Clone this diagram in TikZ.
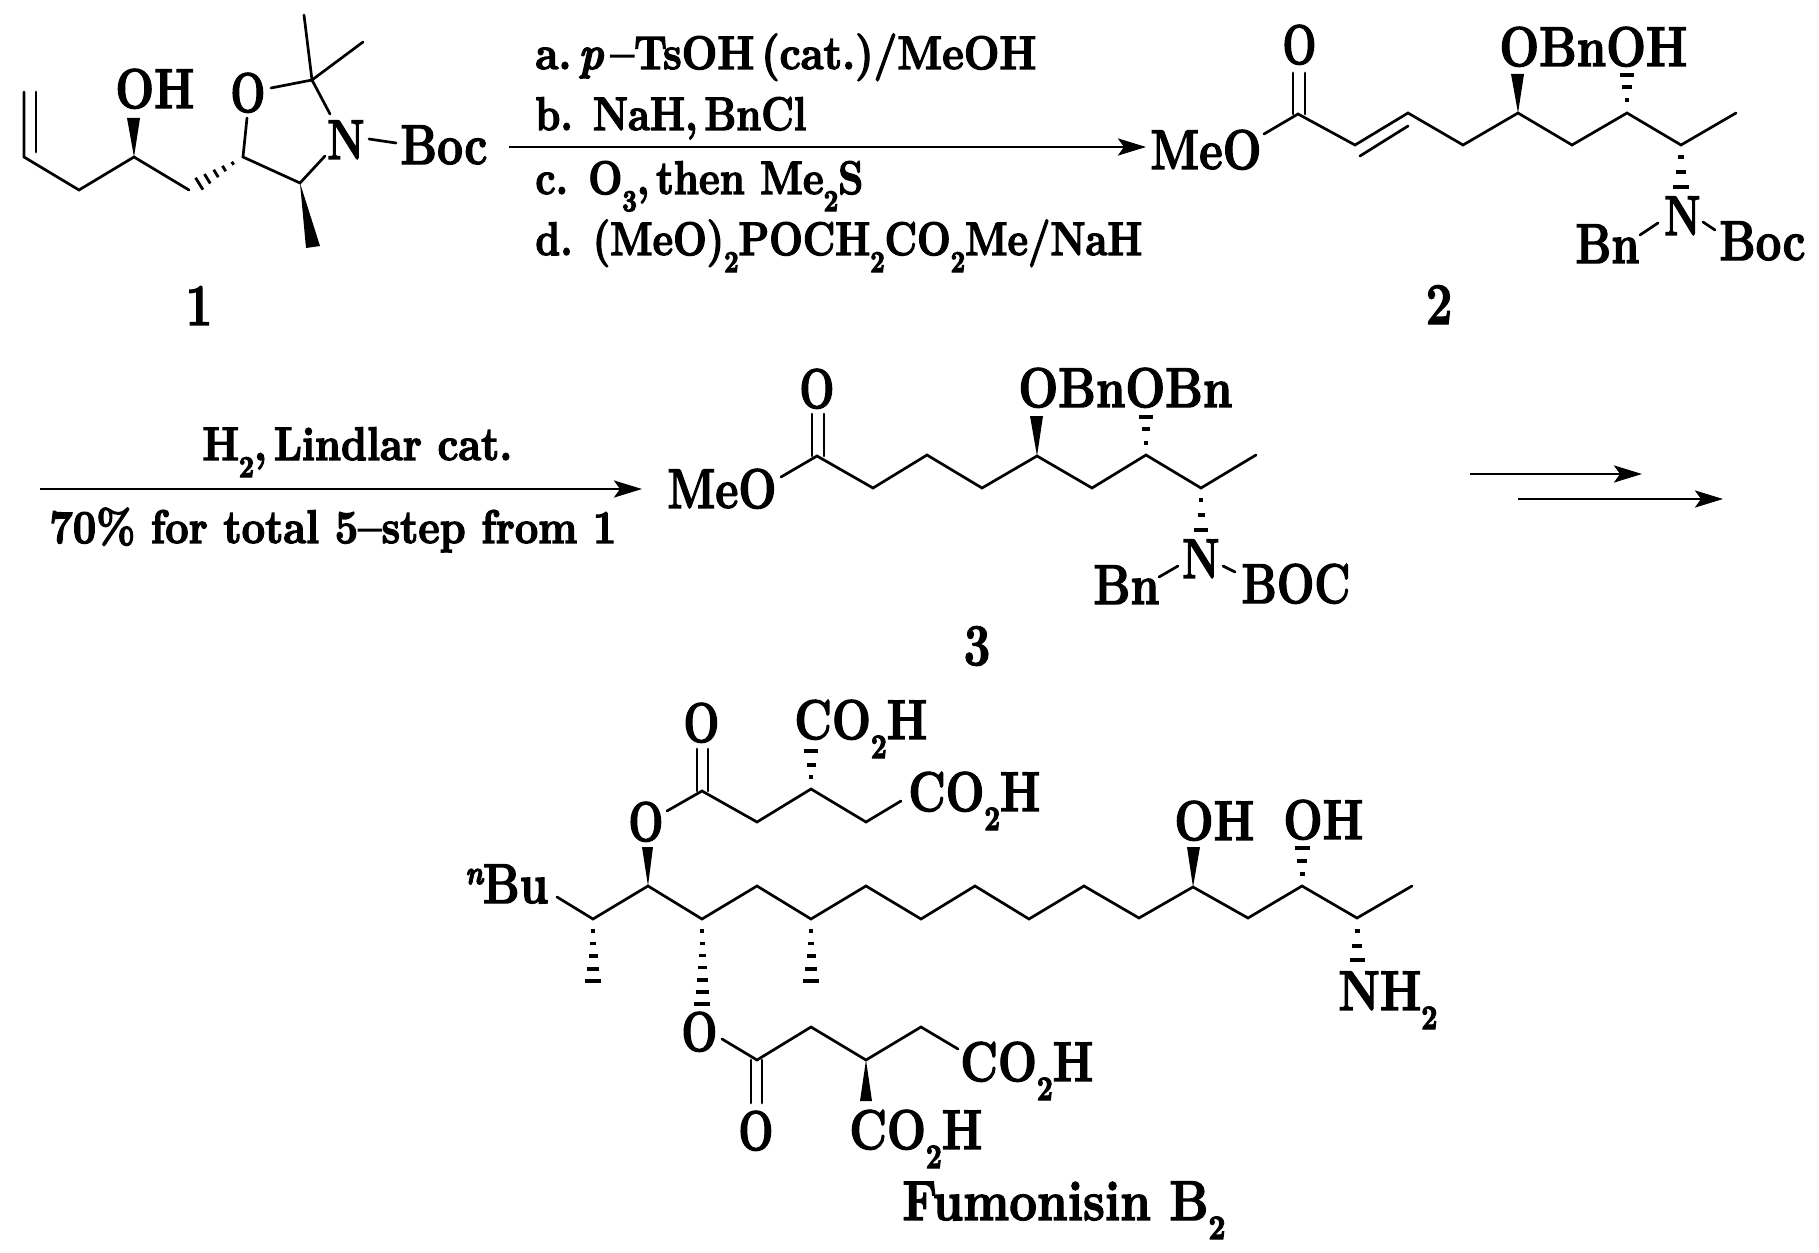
\documentclass[tikz,border=0pt]{standalone}
\usepackage{graphicx}
\usetikzlibrary{arrows.meta}
\newsavebox\labbox
\newcommand\heavyon{\special{pdf:code 2 Tr 0.7 w}}
\newcommand\heavyoff{\special{pdf:code 0 Tr}}
\newcommand\fitw[2]{\sbox\labbox{#2}\pgfmathsetmacro\fitr{#1*0.5/\the\wd\labbox}\heavyon\scalebox{\fitr}[1]{\usebox\labbox}\heavyoff}
\newcommand\sbt[1]{\raisebox{-9.5pt}{\fontsize{17}{17}\selectfont #1}}
\newcommand\sbr[1]{\raisebox{-8.5pt}{\fontsize{15}{15}\selectfont #1}}
\newcommand\hashv[2]{\foreach \yy/\ww in {#2}{\draw[stripe] ({#1-\ww},\yy)--({#1+\ww},\yy);}}
\tikzset{
  lab/.style={inner sep=0pt,anchor=base west,font=\fontsize{28}{30}\selectfont\bfseries},
  rgt/.style={lab,font=\fontsize{23.5}{26}\selectfont\bfseries},
  num/.style={inner sep=0pt,anchor=base,font=\fontsize{29.5}{30}\selectfont\bfseries},
  bond/.style={line width=1.35pt,line join=miter,line cap=round},
  stripe/.style={line width=1.8pt},
  wedge/.style={fill=black,draw=none},
  rxn/.style={line width=1.45pt,-{Stealth[length=14pt,width=8.5pt,inset=3pt]}}
}
\begin{document}
\begin{tikzpicture}[x=0.5pt,y=-0.5pt]
\useasboundingbox[fill=white] (0,0) rectangle (1819,1252);
% atoms, compound 1
\foreach \n/\x/\y in {a1/24/92,a2/24/157,a1i/36/92,a2i/36/152,a3/79/190,a4/134/157,a5/189/190,a6/243/157,a7/247/118,a8/271/88,a9/312/80,a10/304/15,a11/363/42,a12/330/114,a13/325/156,a14/300/183,a15/369/139,a16/396/143,
 % compound 2
 b1/1264/134,b2/1298/114,b3/1293/114,b4/1293/73,b5/1305/114,b6/1305/73,b7/1355/145,b8/1408/113,b9/1463/145,b10/1518/113,b11/1572/145,b12/1627/113,b13/1681/145,b14/1736/113,b15/1360/156,b16/1408/126,b17/1640/235,b18/1658/223,b19/1703/222,b20/1715/230,
 % compound 3
 c1/781/477,c2/817/456,c3/812/456,c4/812/414,c5/824/456,c6/824/414,c7/873/488,c8/927/455,c9/982/488,c10/1037/456,c11/1092/488,c12/1146/455,c13/1201/488,c14/1256/455,c15/1159/577,c16/1178/566,c17/1223/566,c18/1235/572,
 % fumonisin
 f1/667/811,f2/702/791,f3/757/822,f4/811/789,f5/866/822,f6/901/801,f7/697/791,f8/697/749,f9/708/791,f10/708/749,
 g1/557/897,g2/593/919,g3/648/886,g4/702/919,g5/757/886,g6/811/919,g7/866/886,g8/921/919,g9/975/886,g10/1029/919,g11/1084/886,g12/1139/918,g13/1193/887,g14/1248/918,g15/1302/886,g16/1357/918,g17/1412/886,
 h1/722/1039,h2/757/1060,h3/811/1027,h4/866/1060,h5/921/1027,h6/958/1049,h7/751/1060,h8/751/1103,h9/762/1060,h10/762/1103,
 % arrows
 r1/509/147,r2/1146/147,r3/40/489,r4/642/489,r5/1470/474,r6/1642/474,r7/1518/499,r8/1723/499}
 {\coordinate (\n) at (\x,\y);}
% compound 1
\draw[bond] (a1)--(a2)--(a3)--(a4)--(a5);
\draw[bond] (a1i)--(a2i);
\draw[bond] (a7)--(a6)--(a14)--(a13);
\draw[bond] (a8)--(a9)--(a12);
\draw[bond] (a10)--(a9)--(a11);
\draw[bond] (a15)--(a16);
\fill[wedge] (a4)--(127,118)--(140,118)--cycle;
\fill[wedge] (a14)--(306,248)--(320,246)--cycle;
\foreach \t/\w in {.19/7,.34/5.6,.5/4.4,.65/3.2,.81/1.8}
  {\draw[line width=1.4pt] ({189+54*\t-.52*\w},{190-33*\t-.85*\w})--({189+54*\t+.52*\w},{190-33*\t+.85*\w});}
\node[lab] (oh1) at (115,108) {\fitw{79}{OH}};
\node[lab] (o1) at (230,112) {\fitw{35}{O}};
\node[lab] (n1) at (327,159) {\fitw{37}{N}};
\node[lab] (boc1) at (400,164) {\fitw{87}{Boc}};
\node[num] (l1) at (199,325) {\heavyon\scalebox{.8}[1]{1}\heavyoff};
% arrow 1
\draw[rxn] (r1)--(r2);
\node[rgt] (ra) at (535,69) {\fitw{501}{a.\,{\itshape p}\,--TsOH\,(cat.)/MeOH}};
\node[rgt] (rb) at (535,130) {\fitw{271}{b. NaH,\,BnCl}};
\node[rgt] (rc) at (535,194) {\fitw{328}{c. O\sbr{3},\,then Me\sbr{2}S}};
\node[rgt] (rd) at (535,255) {\fitw{607}{d. (MeO)\sbr{2}POCH\sbr{2}CO\sbr{2}Me/NaH}};
% compound 2
\draw[bond] (b1)--(b2)--(b7)--(b8)--(b9)--(b10)--(b11)--(b12)--(b13)--(b14);
\draw[bond] (b3)--(b4);
\draw[bond] (b5)--(b6);
\draw[bond] (b15)--(b16);
\draw[bond] (b17)--(b18);
\draw[bond] (b19)--(b20);
\fill[wedge] (b10)--(1511,74)--(1524,74)--cycle;
\hashv{1627}{75/6.9,87/4.6,100/2.3}
\hashv{1681}{157/3.4,172/5,187/7.6}
\node[lab] (meo2) at (1150,169) {\fitw{111}{MeO}};
\node[lab] (o2) at (1282,64) {\fitw{34}{O}};
\node[lab] (obn2) at (1499,66) {\fitw{188}{OBnOH}};
\node[lab] (n2) at (1664,235) {\fitw{36}{N}};
\node[lab] (bn2) at (1575,263) {\fitw{64}{Bn}};
\node[lab] (boc2) at (1719,260) {\fitw{86}{Boc}};
\node[num] (l2) at (1439,324) {\heavyon\scalebox{.8}[1]{2}\heavyoff};
% arrow 2
\draw[rxn] (r3)--(r4);
\node[rgt] (rh) at (202,460) {\fitw{310}{H\sbr{2},\,Lindlar cat.}};
\node[rgt] (ry) at (49,543) {\fitw{567}{70\% for total 5--step from 1}};
% compound 3
\draw[bond] (c1)--(c2)--(c7)--(c8)--(c9)--(c10)--(c11)--(c12)--(c13)--(c14);
\draw[bond] (c3)--(c4);
\draw[bond] (c5)--(c6);
\draw[bond] (c15)--(c16);
\draw[bond] (c17)--(c18);
\fill[wedge] (c10)--(1030,416)--(1043,416)--cycle;
\hashv{1146}{417/6.8,429/4.2,443/1.7}
\hashv{1201}{500/2,515/3.5,530/7}
\node[lab] (meo3) at (667,508) {\fitw{109}{MeO}};
\node[lab] (o3) at (799,408) {\fitw{35}{O}};
\node[lab] (obn3) at (1018,407) {\fitw{214}{OBnOBn}};
\node[lab] (n3) at (1182,578) {\fitw{37}{N}};
\node[lab] (bn3) at (1093,604) {\fitw{66}{Bn}};
\node[lab] (boc3) at (1241,603) {\fitw{109}{BOC}};
\node[num] (l3) at (977,665) {\heavyon\scalebox{.8}[1]{3}\heavyoff};
% arrows 3
\draw[rxn] (r5)--(r6);
\draw[rxn] (r7)--(r8);
% fumonisin
\draw[bond] (f1)--(f2)--(f3)--(f4)--(f5)--(f6);
\draw[bond] (f7)--(f8);
\draw[bond] (f9)--(f10);
\draw[bond] (g1)--(g2)--(g3)--(g4)--(g5)--(g6)--(g7)--(g8)--(g9)--(g10)--(g11)--(g12)--(g13)--(g14)--(g15)--(g16)--(g17);
\draw[bond] (h1)--(h2)--(h3)--(h4)--(h5)--(h6);
\draw[bond] (h7)--(h8);
\draw[bond] (h9)--(h10);
\fill[wedge] (g3)--(642,847)--(653,847)--cycle;
\fill[wedge] (h4)--(860,1101)--(872,1101)--cycle;
\fill[wedge] (g13)--(1187,847)--(1200,847)--cycle;
\hashv{811}{751/6.7,765/4.5,777/2}
\hashv{593}{931/2,943.5/3,956/4.5,969/6,981/7.6}
\hashv{702}{931/2,943.5/2.5,955.5/3.5,967.6/4.5,980/5.5,992/6.5,1004/7.6}
\hashv{811}{931/2,943.5/3,956/4.5,969/6,981/7.6}
\hashv{1302}{848/7.5,861/5,874/2.5}
\hashv{1357}{931/2.5,946/5,960/7.5}
\node[lab] (o4) at (683,742) {\fitw{36}{O}};
\node[lab] (co1) at (794,739) {\fitw{133}{CO\sbt{2}H}};
\node[lab] (co2) at (908,811) {\fitw{132}{CO\sbt{2}H}};
\node[lab] (o5) at (628,841) {\fitw{35}{O}};
\node[lab] (bu) at (465,903) {\fitw{83}{\raisebox{9.5pt}{\fontsize{16.5}{17}\selectfont\itshape n}Bu}};
\node[lab] (oh4) at (1174,840) {\fitw{80}{OH}};
\node[lab] (oh5) at (1283,839) {\fitw{80}{OH}};
\node[lab] (nh2) at (1338,1010) {\fitw{99}{NH\sbt{2}}};
\node[lab] (o6) at (681,1051) {\fitw{36}{O}};
\node[lab] (co3) at (960,1081) {\fitw{133}{CO\sbt{2}H}};
\node[lab] (o7) at (738,1150) {\fitw{35}{O}};
\node[lab] (co4) at (849,1149) {\fitw{133}{CO\sbt{2}H}};
\node[lab] (fum) at (902,1220) {\fitw{323}{Fumonisin B\sbt{2}}};
\end{tikzpicture}
\end{document}
